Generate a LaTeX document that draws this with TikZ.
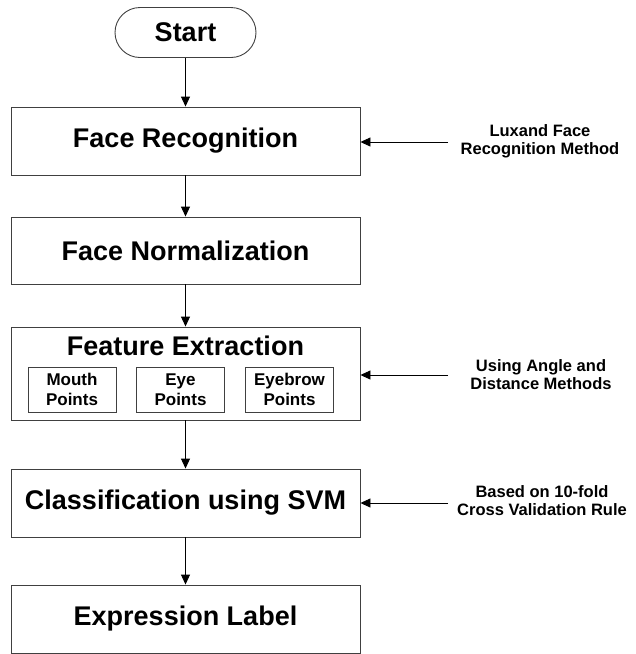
\documentclass[tikz,border=0pt]{standalone}
\usepackage{fontspec}
\setmainfont{Liberation Sans}
\usetikzlibrary{arrows.meta}
\begin{document}
\begin{tikzpicture}[x=1pt,y=-1pt,
  box/.style={draw=black!75,line width=0.9pt,inner sep=0pt,minimum width=349pt,font=\fontsize{27}{32}\selectfont\bfseries},
  subbox/.style={draw=black!75,line width=0.9pt,inner sep=0pt,minimum width=88pt,minimum height=45pt,align=center,font=\fontsize{17}{20}\selectfont\bfseries},
  sidelabel/.style={inner sep=0pt,align=center,font=\fontsize{16.5}{18}\selectfont\bfseries},
  flow/.style={line width=0.9pt,-{Triangle[length=10pt,width=9pt]}}
]
\useasboundingbox (0,0) rectangle (636,654);
\node[draw=black!75,line width=0.9pt,rounded corners=25pt,minimum width=141pt,minimum height=50pt,inner sep=0pt,font=\fontsize{27}{32}\selectfont\bfseries] (start) at (185.5,32.5) {Start};
\node[box,minimum height=68pt] (fr) at (185.5,141) {Face Recognition};
\node[box,minimum height=67pt] (fn) at (185.5,250.5) {Face Normalization};
\node[box,minimum height=93pt] (fe) at (185.5,373.5) {};
\node[inner sep=0pt,anchor=base,font=\fontsize{27}{32}\selectfont\bfseries] (fet) at (185.5,355) {Feature Extraction};
\node[subbox] (mouth) at (72,389.5) {Mouth\\Points};
\node[subbox] (eye) at (180.5,389.5) {Eye\\Points};
\node[subbox] (brow) at (289.5,389.5) {Eyebrow\\Points};
\node[box,minimum height=68pt] (cl) at (185.5,503) {Classification using SVM};
\node[box,minimum height=68pt] (el) at (185.5,619) {Expression Label};

\node[sidelabel] (l1) at (540,141) {Luxand Face\\Recognition Method};
\node[sidelabel] (l2) at (541,375) {Using Angle and\\Distance Methods};
\node[sidelabel] (l3) at (542,501) {Based on 10-fold\\Cross Validation Rule};

\coordinate (s1) at (448,142);
\coordinate (s2) at (448,375);
\coordinate (s3) at (448,503);

\draw[flow] (start) -- (fr);
\draw[flow] (fr) -- (fn);
\draw[flow] (fn) -- (fe);
\draw[flow] (fe) -- (cl);
\draw[flow] (cl) -- (el);
\draw[flow] (s1) -- (s1 -| fr.east);
\draw[flow] (s2) -- (s2 -| fe.east);
\draw[flow] (s3) -- (s3 -| cl.east);
\end{tikzpicture}
\end{document}
